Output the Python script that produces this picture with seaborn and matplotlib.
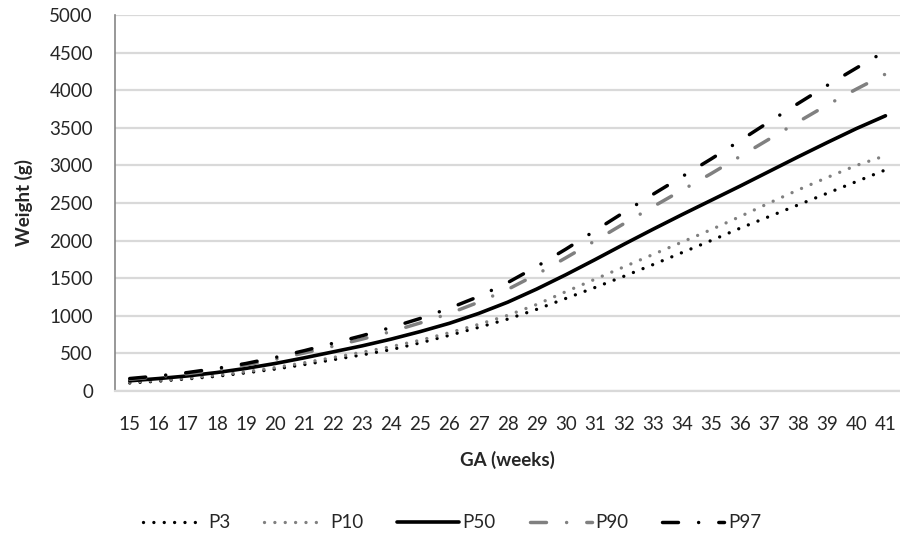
import matplotlib
matplotlib.use("Agg")
import matplotlib.pyplot as plt
import seaborn as sns

# -----------------------------
# Data
# -----------------------------
weeks = list(range(15, 42))

p3 = [105, 130, 160, 195, 240, 290, 350, 415, 480, 550, 640, 740, 845, 955,
      1085, 1230, 1375, 1525, 1680, 1840, 2000, 2165, 2320, 2475, 2630, 2785, 2940]
p10 = [115, 140, 170, 210, 255, 310, 375, 445, 515, 590, 675, 775, 885, 1005,
       1150, 1320, 1485, 1650, 1815, 1980, 2145, 2320, 2500, 2675, 2840, 3000, 3130]
p50 = [135, 165, 200, 245, 300, 365, 440, 520, 600, 690, 790, 900, 1030, 1180,
       1355, 1545, 1745, 1950, 2150, 2345, 2535, 2725, 2920, 3115, 3305, 3490, 3660]
p90 = [155, 190, 230, 280, 345, 420, 505, 595, 690, 790, 905, 1030, 1180, 1350,
       1550, 1770, 1995, 2225, 2450, 2670, 2890, 3120, 3350, 3580, 3805, 4015, 4215]
p97 = [165, 200, 245, 300, 365, 445, 535, 635, 735, 845, 965, 1100, 1255, 1440,
       1655, 1885, 2130, 2375, 2615, 2850, 3085, 3330, 3580, 3825, 4065, 4295, 4520]

labels = ["P3", "P10", "P50", "P90", "P97"]
series = [p3, p10, p50, p90, p97]
yticks = list(range(0, 5001, 500))

# -----------------------------
# Styles
# -----------------------------
GRAY = "#808080"
TEXT = "#262626"
dot = (0, (0.01, 3.1))
dash_dot = (0, (4.6, 5.8, 0.01, 5.8))
styles = {
    "P3": dict(color="black", linestyle=dot, lw=2.4),
    "P10": dict(color=GRAY, linestyle=dot, lw=2.4),
    "P50": dict(color="black", linestyle="-", lw=2.6),
    "P90": dict(color=GRAY, linestyle=dash_dot, lw=2.5),
    "P97": dict(color="black", linestyle=dash_dot, lw=2.5),
}

sns.set_style("white")
plt.rcParams["font.family"] = ["Lato", "DejaVu Sans"]

fig = plt.figure(figsize=(9, 5.37), dpi=100)
ax = fig.add_axes([0.128, 0.272, 0.872, 0.700])

for name, vals in zip(labels, series):
    sns.lineplot(x=weeks, y=vals, ax=ax, label=name,
                 dash_capstyle="round", solid_capstyle="round", **styles[name])

ax.set_xlim(14.5, 41.5)
ax.set_ylim(0, 5000)
ax.set_xticks(weeks)
ax.set_yticks(yticks)
ax.tick_params(axis="x", length=0, pad=18, labelsize=13.5, labelcolor=TEXT)
ax.tick_params(axis="y", length=6, width=1.2, color="#868686", pad=10,
               labelsize=13.5, labelcolor=TEXT)
ax.grid(axis="y", color="#d9d9d9", lw=1.6)
ax.set_axisbelow(True)

for s in ["top", "right"]:
    ax.spines[s].set_visible(False)
ax.spines["left"].set_color("#868686")
ax.spines["left"].set_linewidth(1.2)
ax.spines["bottom"].set_color("#d9d9d9")
ax.spines["bottom"].set_linewidth(1.6)

ax.set_xlabel("GA (weeks)", fontsize=13.5, fontweight="bold", color=TEXT)
ax.set_ylabel("Weight (g)", fontsize=13.5, fontweight="bold", color=TEXT)
ax.xaxis.set_label_coords(0.5, -0.16)
ax.yaxis.set_label_coords(-0.105, 0.5)

ax.legend(loc="center", bbox_to_anchor=(0.429, -0.351), ncol=5, frameon=False,
          fontsize=13.5, handlelength=3.3, columnspacing=1.8, handletextpad=0.2,
          labelcolor=TEXT)

fig.savefig("out.png", dpi=100)
